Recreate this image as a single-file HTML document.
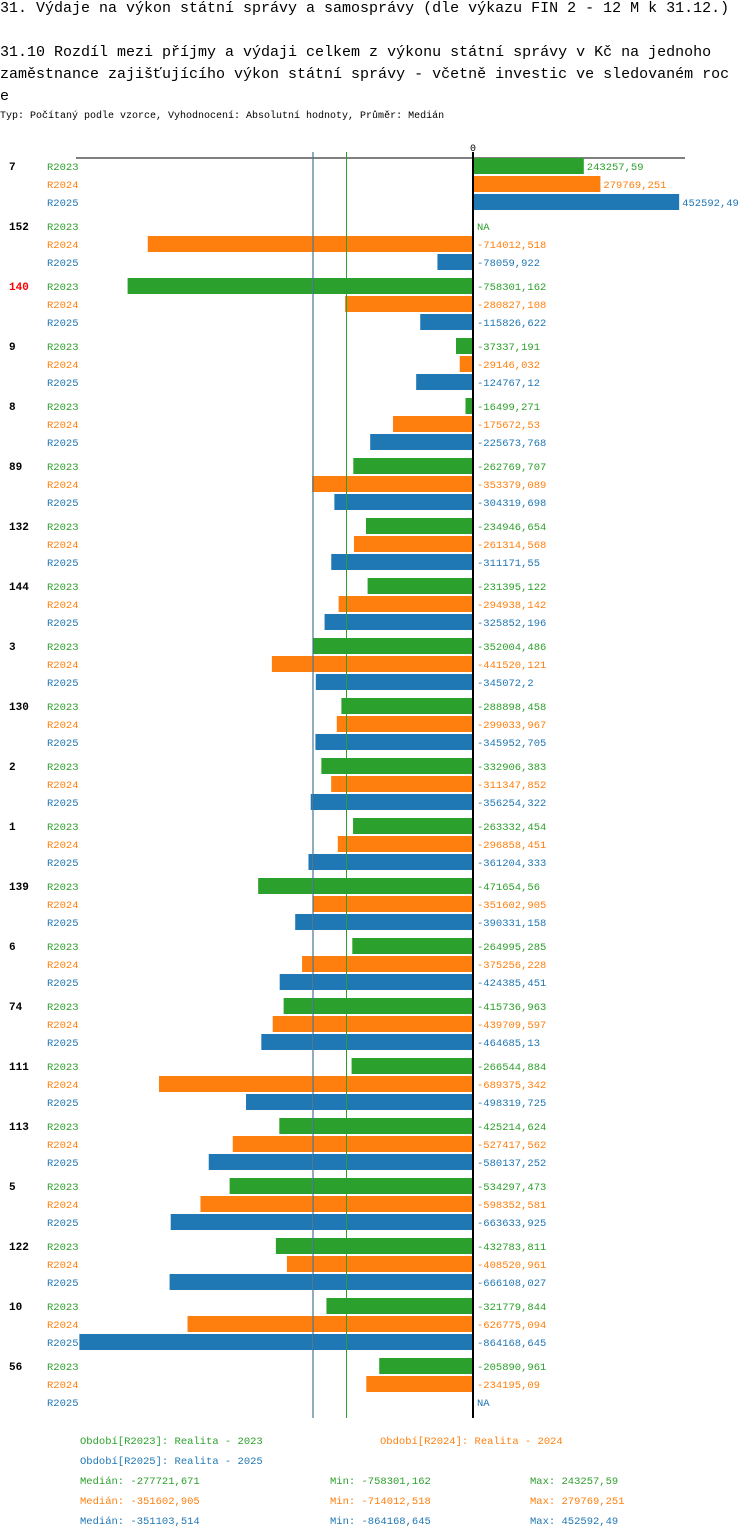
<!DOCTYPE html>
<html><head><meta charset="utf-8">
<style>
body{margin:0;background:#fff;width:750px;height:1538px;overflow:hidden;font-family:"Liberation Mono",monospace;}
.t{position:absolute;left:0;white-space:nowrap;color:#000;}
</style></head><body>
<div class="t" style="top:0px;font-size:15px;line-height:18px;">31. Výdaje na výkon státní správy a samosprávy (dle výkazu FIN 2 - 12 M k 31.12.)</div>
<div class="t" style="top:42px;font-size:15px;line-height:22px;">31.10 Rozdíl mezi  příjmy a výdaji celkem z výkonu státní správy v Kč na jednoho<br>zaměstnance zajišťujícího výkon státní správy - včetně investic ve sledovaném roc<br>e</div>
<div class="t" style="top:111px;font-size:10px;">Typ: Počítaný podle vzorce, Vyhodnocení: Absolutní hodnoty, Průměr: Medián</div>
<svg id="chart" width="750" height="1538" style="position:absolute;left:0;top:0;font-family:'Liberation Mono',monospace;"></svg>
<script>
const categories=["7","152","140","9","8","89","132","144","3","130","2","1","139","6","74","111","113","5","122","10","56"];
const r2023=[243257.59,null,-758301.162,-37337.191,-16499.271,-262769.707,-234946.654,-231395.122,-352004.486,-288898.458,-332906.383,-263332.454,-471654.56,-264995.285,-415736.963,-266544.884,-425214.624,-534297.473,-432783.811,-321779.844,-205890.961];
const r2024=[279769.251,-714012.518,-280827.108,-29146.032,-175672.53,-353379.089,-261314.568,-294938.142,-441520.121,-299033.967,-311347.852,-296858.451,-351602.905,-375256.228,-439709.597,-689375.342,-527417.562,-598352.581,-408520.961,-626775.094,-234195.09];
const r2025=[452592.49,-78059.922,-115826.622,-124767.12,-225673.768,-304319.698,-311171.55,-325852.196,-345072.2,-345952.705,-356254.322,-361204.333,-390331.158,-424385.451,-464685.13,-498319.725,-580137.252,-663633.925,-666108.027,-864168.645,null];
const seriesNames=["R2023","R2024","R2025"];
const medians=[-277721.671,-351602.905,-351103.514];
const mins=[-758301.162,-714012.518,-864168.645];
const maxs=[243257.59,279769.251,452592.49];
const colors=["#2ca02c","#ff7f0e","#1f77b4"];
const svg=document.getElementById('chart');
const NS="http://www.w3.org/2000/svg";
const x0=473,k=0.0004555;
const xs=v=>x0+v*k;
const rowY=(g,s)=>166+g*60+s*18;
function el(tag,attrs,txt){const e=document.createElementNS(NS,tag);for(const a in attrs)e.setAttribute(a,attrs[a]);if(txt!==undefined)e.textContent=txt;svg.appendChild(e);return e;}
const fmt=v=>v===null?"NA":String(v).replace('.',',');
const series=[r2023,r2024,r2025];
let ax=el('line',{x1:76,x2:685,y1:158,y2:158,stroke:'#000','stroke-width':1});


let zl=el('text',{x:x0,y:151,'font-size':10,'text-anchor':'middle'},'0');


categories.forEach((c,g)=>{
  const gl=el('text',{x:9,y:rowY(g,0)+4,'font-size':11,'font-weight':'bold',fill:c==="140"?'#ff0000':'#000'},c);
  
  
  series.forEach((arr,s)=>{
    const y=rowY(g,s),v=arr[g];
    const sl=el('text',{x:47,y:y+4,'font-size':10.5,fill:colors[s]},seriesNames[s]);
    
    
    let lx=x0+4;
    if(v!==null){
      const a=Math.min(xs(v),x0),w=Math.abs(xs(v)-x0);
      const r=el('rect',{x:a,y:y-8,width:w,height:16,fill:colors[s]});
      
      
      if(v>0)lx=xs(v)+3;
    }
    const vl=el('text',{x:lx,y:y+4,'font-size':10.5,fill:colors[s]},fmt(v));
    
    
  });
});
[[0,'#2ca02c'],[1,'#ff7f0e'],[2,'#1f77b4']].forEach(([s,col])=>{
  const ml=el('line',{x1:xs(medians[s]),x2:xs(medians[s]),y1:152,y2:1418,stroke:col,'stroke-width':1});
  
  
});
let zz=el('line',{x1:x0,x2:x0,y1:152,y2:1418,stroke:'#000','stroke-width':2});


const leg=[[80,1444,0,"Období[R2023]: Realita - 2023"],[380,1444,1,"Období[R2024]: Realita - 2024"],[80,1464,2,"Období[R2025]: Realita - 2025"]];
leg.forEach(([x,y,s,t])=>{const e=el('text',{x:x,y:y,'font-size':10.5,fill:colors[s]},t);

});
[0,1,2].forEach(s=>{const y=1484+s*20;
const a=el('text',{x:80,y:y,'font-size':10.5,fill:colors[s]},"Medián: "+fmt(medians[s]));


const b=el('text',{x:330,y:y,'font-size':10.5,fill:colors[s]},"Min: "+fmt(mins[s]));


const d=el('text',{x:530,y:y,'font-size':10.5,fill:colors[s]},"Max: "+fmt(maxs[s]));

});
</script>
</body></html>
